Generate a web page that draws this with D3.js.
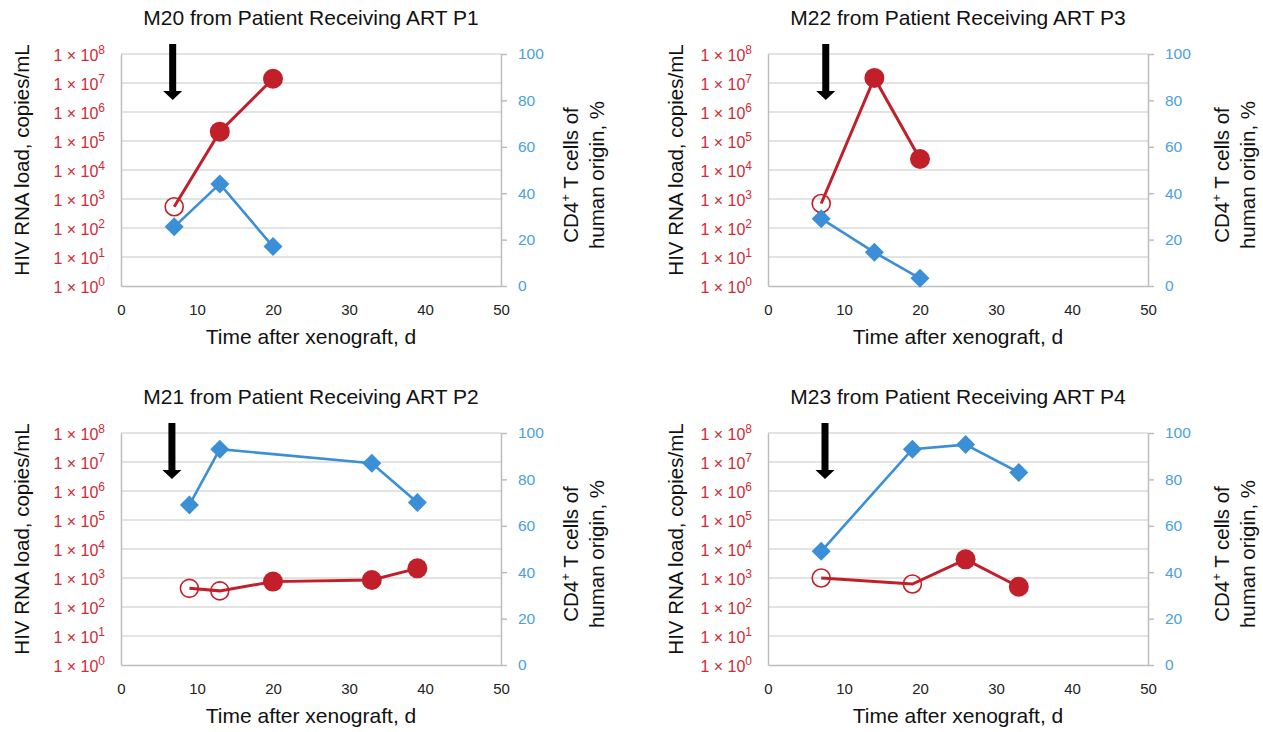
<!DOCTYPE html>
<html>

<head>
  <style>
    body {
      margin: 0;
      background: #fff;
    }

    svg {
      font-family: "Liberation Sans", Arial, sans-serif;
    }
  </style>
</head>

<body>
  <svg width="1263" height="732"></svg>
  <script src="https://d3js.org/d3.v7.min.js"></script>
  <script>

    // panel order: top-left, top-right, bottom-left, bottom-right
    const titles = [
      "M20 from Patient Receiving ART P1",
      "M22 from Patient Receiving ART P3",
      "M21 from Patient Receiving ART P2",
      "M23 from Patient Receiving ART P4"
    ];

    // HIV RNA load (copies/mL), left log axis
    const rnaDays = [[7, 13, 20], [7, 14, 20], [9, 13, 20, 33, 39], [7, 19, 26, 33]];
    const rnaLoad = [[540, 2.1e5, 1.4e7], [700, 1.5e7, 2.4e4], [440, 360, 750, 850, 2150], [1000, 620, 4400, 500]];
    // open circle = below detection limit
    const rnaOpen = [[true, false, false], [true, false, false], [true, true, false, false, false], [true, true, false, false]];

    // CD4+ T cells of human origin (%), right axis
    const cd4Days = [[7, 13, 20], [7, 14, 20], [9, 13, 33, 39], [7, 19, 26, 33]];
    const cd4Pct = [[25.5, 44, 17], [29, 14.5, 3.3], [69, 93, 87, 70], [49, 93, 95, 83]];

    // xenograft arrow
    const arrowDays = [6.8, 7.6, 6.7, 7.5];

    const xTicks = [0, 10, 20, 30, 40, 50];
    const logTicks = [1, 1e1, 1e2, 1e3, 1e4, 1e5, 1e6, 1e7, 1e8];
    const pctTicks = [0, 20, 40, 60, 80, 100];

    const svg = d3.select("svg");

    const redMark = "#c1202b";
    const redText = "#d22a36";
    const blueMark = "#3b8fd6";
    const blueText = "#4aa0e2";
    const gridColor = "#dadada";
    const axisColor = "#bdbdbd";

    const origins = [[0, 0], [647, 0], [0, 379], [647, 379]];

    function renderPanel(i) {
      const [ox, oy] = origins[i];
      const left = 121, right = 501, top = 54, bottom = 286;
      const col = i % 2;

      const g = svg.append("g").attr("transform", `translate(${ox},${oy})`);

      const x = d3.scaleLinear().domain([0, 50]).range([left, right]);
      const yLog = d3.scaleLog().domain([1, 1e8]).range([bottom, top]);
      const yPct = d3.scaleLinear().domain([0, 100]).range([bottom, top]);

      // gridlines
      g.append("g")
        .selectAll("line")
        .data(logTicks.slice(1))
        .join("line")
        .attr("x1", left)
        .attr("x2", right)
        .attr("y1", d => yLog(d))
        .attr("y2", d => yLog(d))
        .attr("stroke", gridColor)
        .attr("stroke-width", 1.5);

      // left log axis
      const la = g.append("g")
        .attr("transform", `translate(${left},0)`)
        .call(d3.axisLeft(yLog).tickValues(logTicks).tickSize(0).tickSizeOuter(0).tickPadding(16).tickFormat(""))
        .attr("font-family", null)
        .attr("font-size", 16);
      la.select(".domain").attr("stroke", axisColor).attr("stroke-width", 1.5);
      la.selectAll(".tick text")
        .attr("fill", redText)
        .attr("dy", "0.38em")
        .each(function (d) {
          const t = d3.select(this);
          t.append("tspan").text("1 × 10");
          t.append("tspan")
            .attr("dy", -7)
            .attr("font-size", 12)
            .text(Math.round(Math.log10(d)));
        });

      // bottom axis
      const ba = g.append("g")
        .attr("transform", `translate(0,${bottom})`)
        .call(d3.axisBottom(x).tickValues(xTicks).tickSize(0).tickSizeOuter(0).tickPadding(18))
        .attr("font-family", null)
        .attr("font-size", 15);
      ba.select(".domain").attr("stroke", axisColor).attr("stroke-width", 1.5);
      ba.selectAll(".tick text").attr("fill", "#222");

      // right percent axis
      const ra = g.append("g")
        .attr("transform", `translate(${right},0)`)
        .call(d3.axisRight(yPct).tickValues(pctTicks).tickSize(6).tickSizeOuter(0).tickPadding(11))
        .attr("font-family", null)
        .attr("font-size", 15.5);
      ra.select(".domain").attr("stroke", axisColor).attr("stroke-width", 1.5);
      ra.selectAll(".tick line").attr("stroke", axisColor).attr("stroke-width", 1.5);
      ra.selectAll(".tick text").attr("fill", blueText);

      // arrow
      const ax = x(arrowDays[i]);
      const aTop = top - 10, aHead = top + 37, aTip = top + 46;
      g.append("path")
        .attr("d", `M${ax - 3.5},${aTop}L${ax + 3.5},${aTop}L${ax + 3.5},${aHead}L${ax + 9.5},${aHead}L${ax},${aTip}L${ax - 9.5},${aHead}L${ax - 3.5},${aHead}Z`)
        .attr("fill", "#000");

      // HIV RNA series
      const rna = rnaDays[i].map((d, j) => ({ day: d, v: rnaLoad[i][j], open: rnaOpen[i][j] }));
      g.append("path")
        .datum(rna)
        .attr("fill", "none")
        .attr("stroke", redMark)
        .attr("stroke-width", 3)
        .attr("d", d3.line().x(d => x(d.day)).y(d => yLog(d.v)));
      g.append("g")
        .selectAll("circle")
        .data(rna)
        .join("circle")
        .attr("cx", d => x(d.day))
        .attr("cy", d => yLog(d.v))
        .attr("r", d => d.open ? 9 : 10)
        .attr("fill", d => d.open ? "none" : redMark)
        .attr("stroke", redMark)
        .attr("stroke-width", d => d.open ? 1.6 : 0);

      // CD4 series
      const cd4 = cd4Days[i].map((d, j) => ({ day: d, v: cd4Pct[i][j] }));
      g.append("path")
        .datum(cd4)
        .attr("fill", "none")
        .attr("stroke", blueMark)
        .attr("stroke-width", 2.6)
        .attr("d", d3.line().x(d => x(d.day)).y(d => yPct(d.v)));
      g.append("g")
        .selectAll("path")
        .data(cd4)
        .join("path")
        .attr("transform", d => `translate(${x(d.day)},${yPct(d.v)}) rotate(45)`)
        .attr("d", d3.symbol().type(d3.symbolSquare).size(180))
        .attr("fill", blueMark);

      // titles
      g.append("text")
        .attr("x", (left + right) / 2)
        .attr("y", 25)
        .attr("text-anchor", "middle")
        .attr("font-size", 21)
        .attr("fill", "#111")
        .text(titles[i]);

      g.append("text")
        .attr("x", (left + right) / 2)
        .attr("y", 344)
        .attr("text-anchor", "middle")
        .attr("font-size", 21)
        .attr("fill", "#111")
        .text("Time after xenograft, d");

      const ltx = col === 0 ? 29 : 36;
      g.append("text")
        .attr("transform", `translate(${ltx},160) rotate(-90)`)
        .attr("text-anchor", "middle")
        .attr("font-size", 20.5)
        .attr("fill", "#111")
        .text("HIV RNA load, copies/mL");

      const rtx = col === 0 ? 578 : 582;
      const r1 = g.append("text")
        .attr("transform", `translate(${rtx},175) rotate(-90)`)
        .attr("text-anchor", "middle")
        .attr("font-size", 20.5)
        .attr("fill", "#111");
      r1.append("tspan").text("CD4");
      r1.append("tspan").attr("dy", -8).attr("font-size", 13).text("+");
      r1.append("tspan").attr("dy", 8).text(" T cells of");

      g.append("text")
        .attr("transform", `translate(${rtx + 26},175) rotate(-90)`)
        .attr("text-anchor", "middle")
        .attr("font-size", 20.5)
        .attr("fill", "#111")
        .text("human origin, %");
    }

    titles.forEach((t, i) => renderPanel(i));

  </script>
</body>

</html>
